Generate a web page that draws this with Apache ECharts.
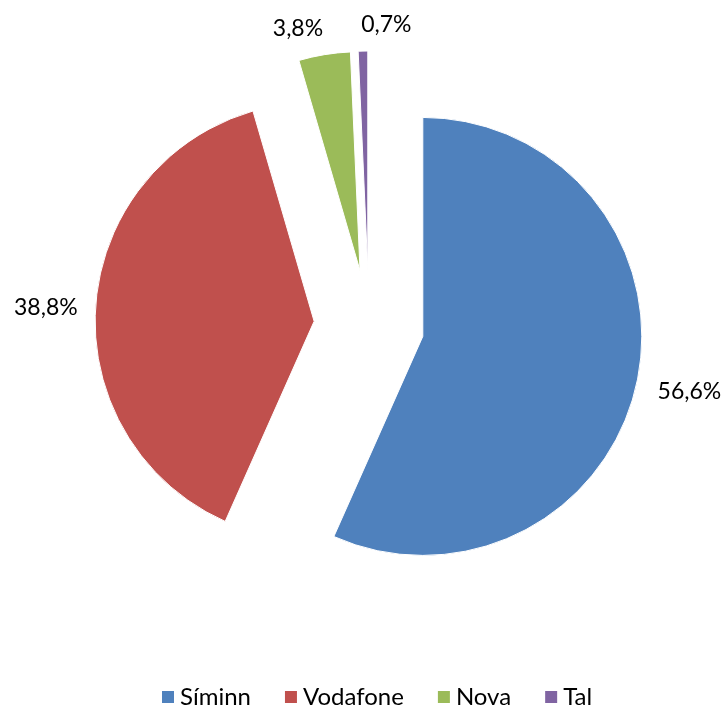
<!DOCTYPE html>
<html>
<head>
<meta charset="utf-8">
<script src="https://cdn.jsdelivr.net/npm/echarts@6/dist/echarts.min.js"></script>
<style>
  html, body { margin: 0; padding: 0; background: #fff; }
  #chart { width: 726px; height: 706px; }
</style>
</head>
<body>
<div id="chart"></div>
<script>
// markaðshlutdeild
const categories = ['Síminn', 'Vodafone', 'Nova', 'Tal']
const shares = [56.6, 38.8, 3.8, 0.7]
const colors = ['#4F81BD', '#C0504D', '#9BBB59', '#8064A2']

// small nudges so labels sit where Excel put them
const labelNudge = [[-4, 6], [7, 2], [7, -6], [54, -6]]

const chart = echarts.init(document.getElementById('chart'))

const option = {
  animation: false,
  color: colors,
  textStyle: { fontFamily: 'Lato' },
  legend: {
    data: categories,
    left: 155,
    top: 680,
    icon: 'rect',
    itemWidth: 14,
    itemHeight: 14,
    itemGap: 32,
    selectedMode: false,
    textStyle: { fontFamily: 'Lato', fontSize: 24, color: '#000' }
  },
  series: [
    {
      type: 'pie',
      center: [369, 325],
      radius: [0, 219],
      startAngle: 90,
      clockwise: true,
      selectedMode: 'multiple',
      selectedOffset: 55,
      avoidLabelOverlap: false,
      silent: true,
      itemStyle: { borderColor: '#fff', borderWidth: 1 },
      emphasis: { disabled: true },
      label: {
        show: true,
        position: 'outside',
        fontFamily: 'Lato',
        fontSize: 23,
        color: '#000',
        formatter: p => p.value.toFixed(1).replace('.', ',') + '%'
      },
      labelLine: { show: false, length: 20, length2: 0 },
      labelLayout: p => ({ dx: labelNudge[p.dataIndex][0], dy: labelNudge[p.dataIndex][1] }),
      data: categories.map((name, i) => ({ name, value: shares[i], selected: true }))
    }
  ]
}

chart.setOption(option)
</script>
</body>
</html>
